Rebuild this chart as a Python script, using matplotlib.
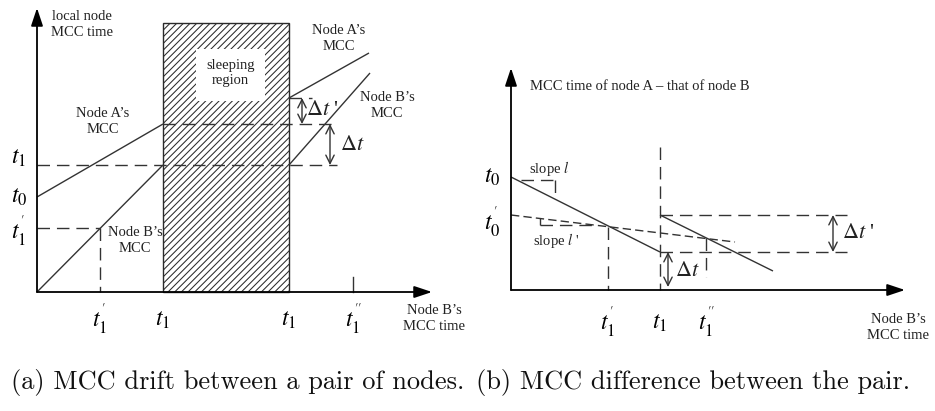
import matplotlib
matplotlib.use("Agg")
import matplotlib.pyplot as plt
from matplotlib.patches import Rectangle

plt.rcParams['mathtext.fontset'] = 'stix'
plt.rcParams['hatch.linewidth'] = 0.75
plt.rcParams['hatch.color'] = '#333333'

LC = '#333333'
TC = '#222222'
SERIF = 'Liberation Serif'
DASH = (9, 5)

# ---------------- panel (a) data (diagram units: pixels) ----------------
a_origin = (37, 292)
a_xaxis_end = 432
a_yaxis_end = 8
a_sleep_x = [163, 289]
a_sleep_top = 23
a_white_box = [196, 265, 49, 101]          # x0, x1, y0, y1
a_nodeA_seg1 = ([37, 163], [197, 124])
a_nodeA_seg2 = ([289, 369], [98, 53])
a_nodeB_seg1 = ([37, 163], [292, 165])
a_nodeB_seg2 = ([289, 370], [165, 73])
a_t1_level = 165
a_t1p_level = 228
a_t1p_x = 100
a_tick_t1pp = 353
a_xtick_pos = [100, 163, 289, 353]
a_xtick_lab = [r"$t_1^{'}$", r"$t_1$", r"$t_1$", r"$t_1^{''}$"]
a_ytick_pos = [157, 196, 231]
a_ytick_lab = [r"$t_1$", r"$t_0$", r"$t_1^{'}$"]

# ---------------- panel (b) data ----------------
b_origin = (511, 290)
b_xaxis_end = 905
b_yaxis_end = 68
b_line1 = ([511, 660], [177, 252])
b_line2 = ([660, 773], [215, 271])
b_dashline = ([511, 735], [215, 242])
b_t1p_x = 608
b_t1p_y = 227
b_t1_x = 660
b_t1pp_x = 706
b_hi = 215
b_lo = 252
b_right = 847
b_xtick_pos = [608, 660, 706]
b_xtick_lab = [r"$t_1^{'}$", r"$t_1$", r"$t_1^{''}$"]
b_ytick_pos = [176, 222]
b_ytick_lab = [r"$t_0$", r"$t_0^{'}$"]

fig = plt.figure(figsize=(9.35, 4.11), dpi=100)
ax = fig.add_axes([0, 0, 1, 1])
ax.set_xlim(0, 935)
ax.set_ylim(411, 0)
ax.axis('off')


def axis_arrow(x0, y0, x1, y1):
    ax.annotate('', xy=(x1, y1), xytext=(x0, y0),
                arrowprops=dict(arrowstyle='-|>,head_length=0.9,head_width=0.3',
                                color='black', lw=1.3, shrinkA=0, shrinkB=0,
                                mutation_scale=12))


def dbl_arrow(x, y0, y1):
    ax.annotate('', xy=(x, y1), xytext=(x, y0),
                arrowprops=dict(arrowstyle='<->,head_length=0.5,head_width=0.25',
                                color=LC, lw=1.0, shrinkA=0, shrinkB=0,
                                mutation_scale=12))


def solid(xs, ys):
    ax.plot(xs, ys, color=LC, lw=1.0, solid_capstyle='butt')


def dashed(xs, ys):
    ax.plot(xs, ys, color=LC, lw=1.0, dashes=DASH)


def delta(x, y, prime=False):
    ax.text(x, y, r"$\Delta t$" + (" '" if prime else ""), family=SERIF,
            fontsize=16, ha='left', va='center', color=TC)


# ================= panel (a) =================
ox, oy = a_origin
rect = Rectangle((a_sleep_x[0], a_sleep_top), a_sleep_x[1] - a_sleep_x[0],
                 oy - a_sleep_top, facecolor='white', edgecolor='#2a2a2a',
                 hatch='/////', lw=1.0, zorder=1)
ax.add_patch(rect)
wb = a_white_box
ax.add_patch(Rectangle((wb[0], wb[2]), wb[1] - wb[0], wb[3] - wb[2],
                       facecolor='white', edgecolor='none', zorder=2))
ax.text((wb[0] + wb[1]) / 2, (wb[2] + wb[3]) / 2 - 2, 'sleeping\nregion',
        family=SERIF, fontsize=10.5, ha='center', va='center',
        linespacing=1.25, color=TC, zorder=3)

axis_arrow(ox, oy, ox, a_yaxis_end)
axis_arrow(ox, oy, a_xaxis_end, oy)

solid(*a_nodeA_seg1)
solid(*a_nodeA_seg2)
solid(*a_nodeB_seg1)
solid(*a_nodeB_seg2)

dashed([ox, 337], [a_t1_level, a_t1_level])
dashed([a_sleep_x[0], 337], [a_nodeA_seg1[1][1], a_nodeA_seg1[1][1]])
dashed([a_sleep_x[1], 312], [a_nodeA_seg2[1][0], a_nodeA_seg2[1][0]])
dashed([ox, a_t1p_x], [a_t1p_level, a_t1p_level])
dashed([a_t1p_x, a_t1p_x], [a_t1p_level, oy])
ax.plot([a_tick_t1pp, a_tick_t1pp], [277, oy], color=LC, lw=1.0)

dbl_arrow(302, a_nodeA_seg2[1][0], a_nodeA_seg1[1][1])
dbl_arrow(330, a_nodeA_seg1[1][1], a_t1_level)
delta(306, 110, prime=True)
delta(340, 145)

for x, lab in zip(a_xtick_pos, a_xtick_lab):
    ax.text(x, 319, lab, fontsize=17, ha='center', va='center')
for y, lab in zip(a_ytick_pos, a_ytick_lab):
    ax.text(19, y, lab, fontsize=17, ha='center', va='center')

small = dict(family=SERIF, fontsize=10.5, ha='center', va='center',
             linespacing=1.3, color=TC)
ax.text(82, 25, 'local node\nMCC time', **small)
ax.text(339, 38, "Node A\u2019s\nMCC", **small)
ax.text(387, 105, "Node B\u2019s\nMCC", **small)
ax.text(103, 121, "Node A\u2019s\nMCC", **small)
ax.text(135, 240, "Node B\u2019s\nMCC", **small)
ax.text(434, 318, "Node B\u2019s\nMCC time", **small)

# ================= panel (b) =================
bx, by = b_origin
axis_arrow(bx, by, bx, b_yaxis_end)
axis_arrow(bx, by, b_xaxis_end, by)

solid(*b_line1)
solid(*b_line2)
ax.plot(*b_dashline, color=LC, lw=1.0, dashes=(6, 3))

dashed([b_t1_x, b_t1_x], [147, by])
dashed([b_t1_x, b_right], [b_hi, b_hi])
dashed([b_t1_x, b_right], [b_lo, b_lo])
dashed([b_t1pp_x, b_t1pp_x], [238, 277])
dashed([b_t1p_x, b_t1p_x], [b_t1p_y, by])
dashed([521, 555], [180, 180])
dashed([555, 555], [180, 198])
dashed([540, 540], [218, 225])
dashed([540, 595], [225, 225])

dbl_arrow(668, b_lo, 287)
dbl_arrow(833, b_hi, b_lo)
delta(675, 271)
delta(842, 233, prime=True)

ax.text(530, 86, "MCC time of node A \u2013 that of node B", family=SERIF,
        fontsize=10.5, ha='left', va='center', color=TC)
ax.text(529, 168, "slope $l$", family=SERIF, fontsize=10.5, ha='left',
        va='center', color=TC)
ax.text(533, 240, "slope $l$ '", family=SERIF, fontsize=10.5, ha='left',
        va='center', color=TC)

for x, lab in zip(b_xtick_pos, b_xtick_lab):
    ax.text(x, 322, lab, fontsize=17, ha='center', va='center')
for y, lab in zip(b_ytick_pos, b_ytick_lab):
    ax.text(492, y, lab, fontsize=17, ha='center', va='center')
ax.text(898, 327, "Node B\u2019s\nMCC time", **small)

# ================= captions =================
cap = dict(family='cmr10', fontsize=19.0, ha='left', va='center', color='#111111')
ax.text(11, 382, "(a) MCC drift between a pair of nodes.", **cap)
ax.text(476, 382, "(b) MCC difference between the pair.", **cap)

fig.savefig('out.png', dpi=100)
